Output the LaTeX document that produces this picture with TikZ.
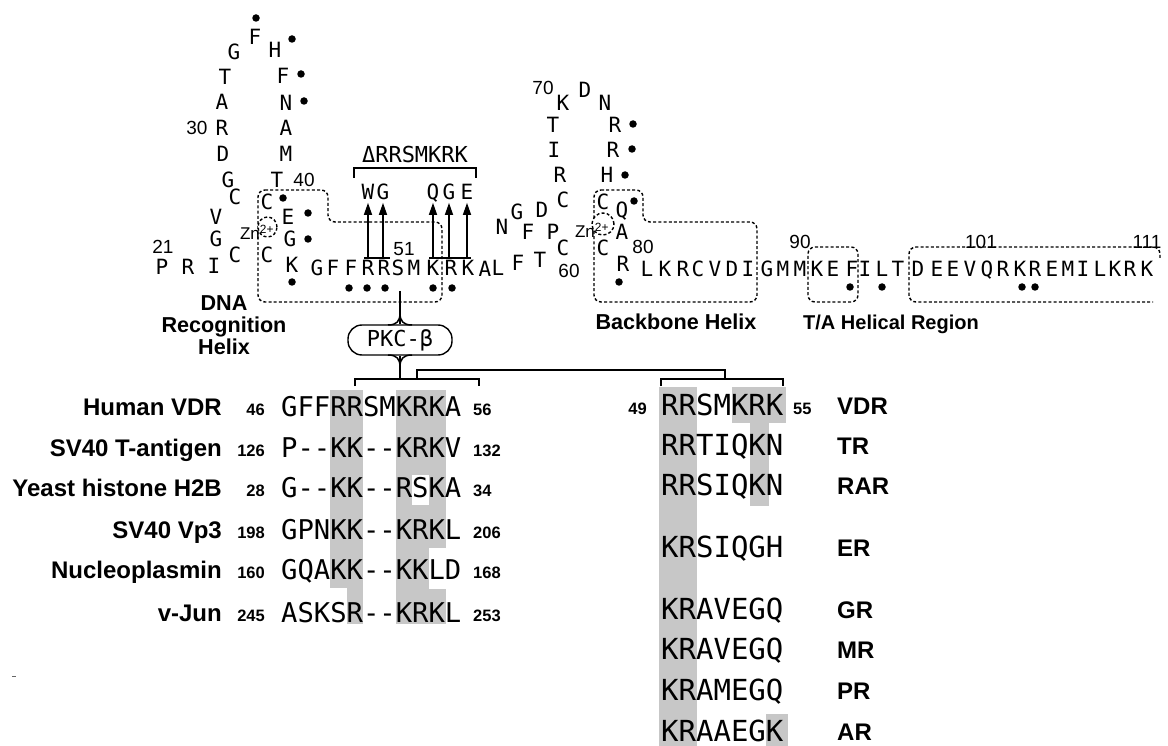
\documentclass[tikz,border=0pt]{standalone}
\usepackage{fontspec}
\setmainfont{Liberation Sans}
\newfontfamily\resfont{DejaVu Sans Mono}
\usetikzlibrary{arrows.meta}
\begin{document}
\begin{tikzpicture}[x=1pt,y=-1pt,
  res/.style={font=\resfont\fontsize{21}{21}\selectfont, inner sep=0pt, text height=15.3pt, text depth=0pt},
  num/.style={font=\fontsize{19}{19}\selectfont, inner sep=0pt, text height=13.6pt, text depth=0pt},
  dot/.style={circle, fill=black, inner sep=0pt, minimum size=7.5pt},
  dbox/.style={dash pattern=on 3pt off 2.2pt, line width=1.4pt, rounded corners=7pt},
  zn/.style={font=\fontsize{17}{17}\selectfont, inner sep=0pt},
  arr/.style={line width=1.5pt, -{Triangle[length=12pt,width=8pt]}},
  brk/.style={line width=1.5pt},
  lab/.style={font=\bfseries\fontsize{21.6}{22}\selectfont, inner sep=0pt, align=center},
  protname/.style={font=\bfseries\fontsize{24}{24}\selectfont, inner sep=0pt, anchor=base east},
  rcpname/.style={font=\bfseries\fontsize{24}{24}\selectfont, inner sep=0pt, anchor=base west},
  snum/.style={font=\bfseries\fontsize{16.5}{16.5}\selectfont, inner sep=0pt},
  lseq/.style={font=\resfont\fontsize{27.2}{27.2}\selectfont, inner sep=0pt, anchor=base west},
  rseq/.style={font=\resfont\fontsize{29}{29}\selectfont, inner sep=0pt, anchor=base west},
  hl/.style={fill=black!22}
]
\useasboundingbox (0,0) rectangle (1168,746);
\fill[white] (0,0) rectangle (1168,746);

% ---------- shading of alignments ----------
\fill[hl] (330,390) rectangle (363,588);
\fill[hl] (347,588) rectangle (363,624);
\fill[hl] (396,390) rectangle (446,548);
\fill[hl] (396,548) rectangle (429,589);
\fill[hl] (396,589) rectangle (446,624);
\fill[white] (412,475) rectangle (429,505);
\fill[hl] (659,387) rectangle (697,746);
\fill[hl] (732,387) rectangle (786,423);
\fill[hl] (750,423) rectangle (769,506);
\fill[hl] (766,714) rectangle (788,746);

% ---------- dashed regions ----------
\draw[dbox] (258,190) -- (328,190) -- (328,222) -- (442,222) -- (442,302) -- (258,302) -- cycle;
\draw[dbox] (594,190) -- (643,190) -- (643,222) -- (757,222) -- (757,302) -- (594,302) -- cycle;
\draw[dbox] (808,247) -- (858,247) -- (858,302) -- (808,302) -- cycle;
\draw[dbox] (1160,258) -- (1160,247) -- (909,247) -- (909,302) -- (1153,302);
\draw[dbox, fill=white] (267.5,227) ellipse [x radius=9.5pt, y radius=10pt];
\draw[dbox, fill=white] (603,224) ellipse [x radius=11pt, y radius=11pt];

% ---------- residues ----------
\foreach \n/\x/\y/\t in {
 21/162/267/P, 22/188/267/R, 23/214/266/I, 24/235/255/C, 25/216/239/G,
 26/216/217/V, 27/235/197/C, 28/228/180/G, 29/223/154/D, 30/222/128/R,
 31/222/102/A, 32/225/77/T, 33/234/52/G, 34/255/37/F, 35/275/50/H,
 36/283/76/F, 37/286/103/N, 38/286/128/A, 39/286/154/M, 40/277/180/T,
 41/267/202/C, 42/288/217/E, 43/290/239/G, 44/267/255/C, 45/292/265/K,
 46/317/268/G, 47/333/268/F, 48/351/268/F, 49/368/268/R, 50/384/268/R,
 51/398/268/S, 52/414/268/M, 53/433/268/K, 54/451/268/R, 55/468/268/K,
 56/485/269/A, 57/498/268/L, 58/518/263/F, 59/540/260/T, 60/563/248/C,
 61/553/232/P, 62/528/232/F, 63/502/227/N, 64/517/212/G, 65/542/210/D,
 66/563/200/C, 67/560/175/R, 68/554/150/I, 69/553/125/T, 70/563/103/K,
 71/585/90/D, 72/605/103/N, 73/615/125/R, 74/613/150/R, 75/607/175/H,
 76/603/202/C, 77/622/210/Q, 78/622/232/A, 79/603/248/C, 80/623/264/R,
 81/647/269/L, 82/665/269/K, 83/683/269/R, 84/698/269/C, 85/715/269/V,
 86/732/269/D, 87/748/269/I, 88/767/269/G, 89/783/269/M, 90/800/269/M,
 91/817/269/K, 92/833/269/E, 93/852/269/F, 94/865/269/I, 95/882/269/L,
 96/898/269/T, 97/918/269/D, 98/937/269/E, 99/953/269/E, 100/970/269/V,
 101/987/269/Q, 102/1003/269/R, 103/1020/269/K, 104/1035/269/R, 105/1052/269/E,
 106/1068/269/M, 107/1083/269/I, 108/1100/269/L, 109/1115/269/K, 110/1130/269/R,
 111/1147/269/K}
 {\node[res] (r\n) at (\x,\y) {\t};}

\node[zn] (zn1) at (257,232) {Zn\textsuperscript{2+}};
\node[zn] (zn2) at (592,230) {Zn\textsuperscript{2+}};

% ---------- residue numbers ----------
\foreach \t/\x/\y in {21/163/247, 30/197/128, 40/304/180, 51/404/249, 60/569/271,
  70/543/88, 80/643/247, 90/800/242, 101/981/242, 111/1147/242}
 {\node[num] (n\t) at (\x,\y) {\t};}

% ---------- dots ----------
\foreach \x/\y [count=\i] in {256/18, 292/39, 301/74, 304/101, 283/198, 308/213,
  308/239, 292/282, 349/288, 367/288, 385/288, 433/288, 452/288, 633/124,
  632/149, 625/175, 634/201, 619/282, 850/287, 882/287, 1022/287, 1035/287}
 {\node[dot] (d\i) at (\x,\y) {};}

% ---------- mutations ----------
\foreach \n/\x/\t in {m49/368/W, m50/383/G, m53/433/Q, m54/449/G, m55/467/E}
 {\node[res] (\n) at (\x,192) {\t};
  \coordinate (b\n) at (\x,258);
  \draw[arr, shorten >=3pt] (b\n) -- (\n.south);}
\draw[brk] (364,258) -- (390,258);
\draw[brk] (429,258) -- (471,258);
\draw[brk] (354,178) -- (354,168) -- (476,168) -- (476,178);
\node[res, font=\resfont\fontsize{22}{22}\selectfont, text height=16pt] (del) at (415,155) {ΔRRSMKRK};

% ---------- region labels ----------
\node[lab] (dna) at (224,325) {DNA\\Recognition\\Helix};
\node[lab, anchor=base] (bbh) at (676,329) {Backbone Helix};
\node[lab, anchor=base west, font=\bfseries\fontsize{20}{20}\selectfont] (tah) at (803,329) {T/A Helical Region};

% ---------- PKC-beta ----------
\node[draw, line width=1.4pt, rounded corners=14pt, minimum width=104pt, minimum height=30pt,
      inner sep=0pt, font=\resfont\fontsize{22}{22}\selectfont] (pkc) at (400,340) {PKC-β};
\coordinate (pk1) at (400,291);
\coordinate (bl) at (400,379);
\draw[brk] (pk1) -- (pkc.north);
\draw[brk] (pkc.south) -- (bl);
\draw[brk] (388,325) .. controls (397,325) and (400,321) .. (400,313);
\draw[brk] (412,325) .. controls (403,325) and (400,321) .. (400,313);
\draw[brk] (388,355) .. controls (397,355) and (400,359) .. (400,367);
\draw[brk] (412,355) .. controls (403,355) and (400,359) .. (400,367);

% ---------- alignment brackets ----------
\draw[brk] (355,386) -- (355,379) -- (479,379) -- (479,386);
\draw[brk] (661,386) -- (661,379) -- (783,379) -- (783,386);
\draw[brk] (417,379) -- (417,370) -- (725,370) -- (725,379);

% ---------- left alignment ----------
\foreach \nm/\a/\s/\b/\y [count=\i] in {
  Human VDR/46/GFFRRSMKRKA/56/416,
  SV40 T-antigen/126/P-{}-KK-{}-KRKV/132/457,
  Yeast histone H2B/28/G-{}-KK-{}-RSKA/34/497,
  SV40 Vp3/198/GPNKK-{}-KRKL/206/539,
  Nucleoplasmin/160/GQAKK-{}-KKLD/168/579,
  v-Jun/245/ASKSR-{}-KRKL/253/622}
 {\node[protname] (p\i) at (222,\y-1) {\nm};
  \node[snum, anchor=base east] (pa\i) at (265,\y-1) {\a};
  \node[lseq] (ps\i) at (281,\y) {\s};
  \node[snum, anchor=base west] (pb\i) at (473,\y-1) {\b};}

% ---------- right alignment ----------
\node[snum, anchor=base east] (q49) at (647,414) {49};
\node[snum, anchor=base west] (q55) at (793,414) {55};
\foreach \s/\nm/\y [count=\i] in {
  RRSMKRK/VDR/415, RRTIQKN/TR/455, RRSIQKN/RAR/495, KRSIQGH/ER/557,
  KRAVEGQ/GR/619, KRAVEGQ/MR/659, KRAMEGQ/PR/700, KRAAEGK/AR/741}
 {\node[rseq] (rs\i) at (661,\y) {\s};
  \node[rcpname] (rn\i) at (837,\y-1) {\nm};}

\draw[line width=0.8pt, black!60] (12,676) -- (16,676);
\end{tikzpicture}
\end{document}
